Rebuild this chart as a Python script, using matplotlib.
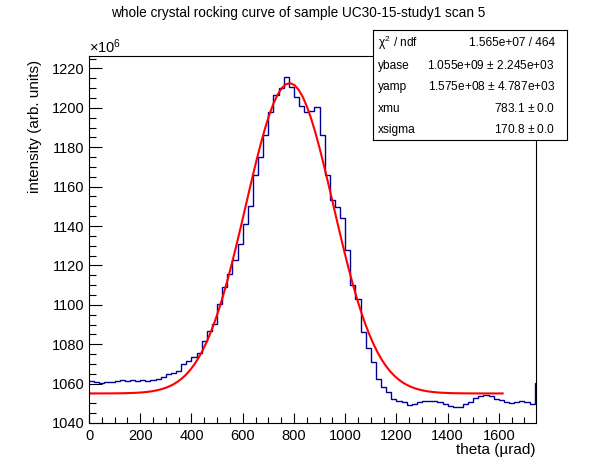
import numpy as np
import matplotlib
matplotlib.use("Agg")
import matplotlib.pyplot as plt
from matplotlib.ticker import MultipleLocator

plt.rcParams['font.family'] = ['Liberation Sans', 'DejaVu Sans']
plt.rcParams['mathtext.fontset'] = 'custom'
plt.rcParams['mathtext.rm'] = 'Liberation Sans'
plt.rcParams['mathtext.it'] = 'Liberation Sans'

# histogram: theta bins (urad), intensity in units of 1e6
theta_edges = list(range(0, 1760, 20))[:88] + [1745]
intensity = [
    1061.3, 1060.6, 1060.5, 1060.8, 1060.7, 1061.3, 1061.6, 1061.2, 1061.6, 1061.5,
    1061.7, 1061.5, 1061.8, 1062.2, 1063.2, 1064.8, 1065.3, 1066.5, 1070.0, 1071.5,
    1073.7, 1075.4, 1081.5, 1086.5, 1090.5, 1100.5, 1109.0, 1115.5, 1122.5, 1131.0,
    1141.0, 1150.0, 1166.0, 1175.0, 1186.0, 1198.0, 1206.5, 1210.0, 1215.5, 1210.5,
    1205.5, 1201.0, 1198.0, 1198.5, 1200.3, 1186.0, 1166.0, 1153.0, 1149.5, 1144.0,
    1128.0, 1110.0, 1103.0, 1086.0, 1078.0, 1071.0, 1062.5, 1058.5, 1055.5, 1052.2,
    1051.4, 1050.5, 1049.1, 1049.8, 1050.8, 1051.2, 1051.3, 1051.0, 1050.5, 1049.8,
    1048.8, 1048.3, 1048.2, 1049.5, 1050.5, 1052.8, 1053.8, 1054.1, 1053.5, 1052.3,
    1051.5, 1050.6, 1050.2, 1050.8, 1051.2, 1050.8, 1049.8, 1060.3,
]

# gaussian fit result (from the stats box)
ybase = 1.055e9
yamp = 1.575e8
xmu = 783.1
xsigma = 170.8
fit_range = (5, 1615)
stat_names = [r'$\chi^{2}$ / ndf', 'ybase', 'yamp', 'xmu', 'xsigma']
stat_values = ['1.565e+07 / 464', '1.055e+09 $\\pm$ 2.245e+03',
               '1.575e+08 $\\pm$ 4.787e+03', '783.1 $\\pm$ 0.0', '170.8 $\\pm$ 0.0']

scale = 1e6

fig = plt.figure(figsize=(5.96, 4.72), dpi=100)
ax = fig.add_axes([89/596, 49/472, 447/596, 367/472])

ax.stairs(intensity, theta_edges, baseline=None, color='#000099', lw=1.0)

# fit curve drawn from the fitted parameters
xf = np.linspace(fit_range[0], fit_range[1], 100)
yf = ybase + yamp * np.exp(-0.5 * ((xf - xmu) / xsigma) ** 2)
ax.plot(xf, yf / scale, color='red', lw=1.5)

ax.set_xlim(0, 1745)
ax.set_ylim(1040, 1226.3)
ax.set_xticks(range(0, 1601, 200))
ax.set_yticks(range(1040, 1221, 20))
ax.xaxis.set_minor_locator(MultipleLocator(50))
ax.yaxis.set_minor_locator(MultipleLocator(5))
ax.tick_params(which='both', direction='in', top=False, right=False, width=0.8, labelsize=10.5)
ax.tick_params(axis='x', which='major', length=7.5, pad=4)
ax.tick_params(axis='x', which='minor', length=4.3)
ax.tick_params(axis='y', which='major', length=9.4, pad=3)
ax.tick_params(axis='y', which='minor', length=4.8)
for s in ax.spines.values():
    s.set_linewidth(0.8)

ax.set_xlabel('theta (µrad)', fontsize=11, loc='right')
ax.xaxis.set_label_coords(1.0, -0.055)
ax.set_ylabel('intensity (arb. units)', fontsize=11, loc='top')
ax.yaxis.set_label_coords(-0.121, 0.99)
ax.yaxis.label.set_va('center')

fig.text(89/596, 1 - 53/472, r'$\times10^{6}$', fontsize=10.5, ha='left', va='baseline')
fig.text(0.5, 1 - 13/472, 'whole crystal rocking curve of sample UC30-15-study1 scan 5',
         fontsize=9.8, ha='center', va='center')

# stats box
sax = fig.add_axes([373/596, (472-140)/472, 194/596, 110/472])
sax.set_xticks([])
sax.set_yticks([])
for s in sax.spines.values():
    s.set_linewidth(0.8)
row_y = [0.882, 0.673, 0.482, 0.282, 0.091]
for name, val, yy in zip(stat_names, stat_values, row_y):
    sax.text(0.026, yy, name, fontsize=8.6, ha='left', va='center', transform=sax.transAxes)
    sax.text(0.938, yy, val, fontsize=8.6, ha='right', va='center', transform=sax.transAxes)

fig.savefig('out.png', dpi=100)
